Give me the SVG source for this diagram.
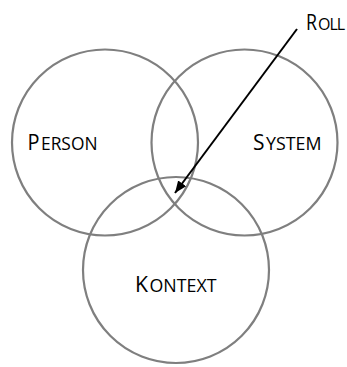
<svg xmlns="http://www.w3.org/2000/svg" width="347" height="367" viewBox="0 0 347 367">
<defs>
<style>
.c{fill:none;stroke:#7f7f7f;stroke-width:2.2}
.t{font-family:"Open Sans","DejaVu Sans",sans-serif;fill:#000}
.b{font-size:21px}
.s{font-size:17.5px}
.e{fill:none;stroke:#000;stroke-width:2}
</style>
<marker id="ah" markerUnits="userSpaceOnUse" markerWidth="14" markerHeight="12" refX="12" refY="5" orient="auto" viewBox="0 0 14 10">
<path d="M0,0 L12,5 L0,10 Z" fill="#000"/>
</marker>
</defs>
<rect width="347" height="367" fill="#fff"/>
<g id="person">
<circle class="c" cx="105" cy="142.5" r="93"/>
<text class="t" y="150"><tspan class="b" x="27.5" textLength="12" lengthAdjust="spacingAndGlyphs">P</tspan><tspan class="s" x="41" textLength="56.5" lengthAdjust="spacingAndGlyphs">ERSON</tspan></text>
</g>
<g id="system">
<circle class="c" cx="244.5" cy="142.5" r="93"/>
<text class="t" y="150"><tspan class="b" x="253" textLength="11.5" lengthAdjust="spacingAndGlyphs">S</tspan><tspan class="s" x="266" textLength="55.5" lengthAdjust="spacingAndGlyphs">YSTEM</tspan></text>
</g>
<g id="kontext">
<circle class="c" cx="176" cy="270" r="93"/>
<text class="t" y="292"><tspan class="b" x="135" textLength="13" lengthAdjust="spacingAndGlyphs">K</tspan><tspan class="s" x="149.5" textLength="67" lengthAdjust="spacingAndGlyphs">ONTEXT</tspan></text>
</g>
<g id="roll">
<text class="t" y="30"><tspan class="b" x="306" textLength="11" lengthAdjust="spacingAndGlyphs">R</tspan><tspan x="318" style="font-size:16px;letter-spacing:-1px">OLL</tspan></text>
</g>
<g id="connectors">
<line class="e" x1="297" y1="29" x2="175" y2="193" marker-end="url(#ah)"/>
</g>
</svg>
